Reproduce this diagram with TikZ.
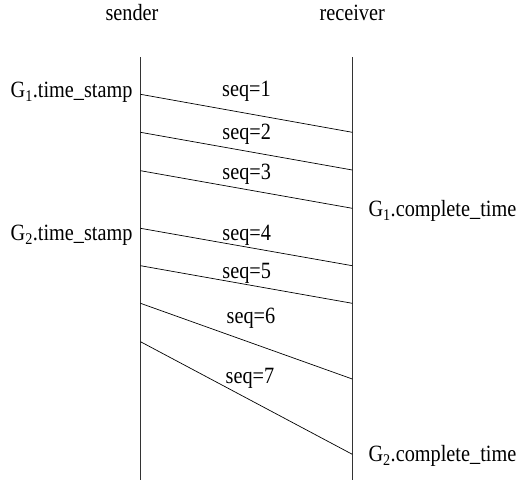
\documentclass[tikz,border=0pt]{standalone}
\usepackage{fontspec}
\setmainfont[FakeStretch=0.87]{Liberation Serif}
\usetikzlibrary{positioning}

\begin{document}
\begin{tikzpicture}[
  x=1pt, y=-1pt,
  every node/.style={font=\fontsize{23.3}{27}\selectfont, inner sep=0pt},
  lifeline/.style={draw=black!80, line width=0.8pt},
  msgline/.style={draw=black, line width=0.7pt},
  seqlabel/.style={anchor=base},
  leftlabel/.style={anchor=base east},
  rightlabel/.style={anchor=base west},
]
\useasboundingbox (0,0) rectangle (519,482);

% lifelines
\coordinate (stop) at (140.5,57);
\coordinate (sbot) at (140.5,480);
\coordinate (rtop) at (352.3,57);
\coordinate (rbot) at (352.3,480);
\draw[lifeline] (stop) -- (sbot);
\draw[lifeline] (rtop) -- (rbot);
\node[anchor=base] (sender) at (132,20) {sender};
\node[anchor=base] (receiver) at (352.2,20) {receiver};

% send / receive points
\coordinate (s1) at (140.5,94.3);  \coordinate (r1) at (352.3,132.3);
\coordinate (s2) at (140.5,132.3); \coordinate (r2) at (352.3,170);
\coordinate (s3) at (140.5,170.7); \coordinate (r3) at (352.3,208.3);
\coordinate (s4) at (140.5,228.3); \coordinate (r4) at (352.3,265.7);
\coordinate (s5) at (140.5,265.7); \coordinate (r5) at (352.3,303.3);
\coordinate (s6) at (140.5,303.3); \coordinate (r6) at (352.3,379);
\coordinate (s7) at (140.5,341.7); \coordinate (r7) at (352.3,454.3);

\draw[msgline] (s1) -- (r1);
\draw[msgline] (s2) -- (r2);
\draw[msgline] (s3) -- (r3);
\draw[msgline] (s4) -- (r4);
\draw[msgline] (s5) -- (r5);
\draw[msgline] (s6) -- (r6);
\draw[msgline] (s7) -- (r7);

% packet labels
\node[seqlabel] (q1) at (246.5,96) {seq=1};
\node[seqlabel] (q2) at (246.7,139.5) {seq=2};
\node[seqlabel] (q3) at (246.7,179.3) {seq=3};
\node[seqlabel] (q4) at (246.7,240.7) {seq=4};
\node[seqlabel] (q5) at (246.7,278.3) {seq=5};
\node[seqlabel] (q6) at (251,323.3) {seq=6};
\node[seqlabel] (q7) at (250,383.3) {seq=7};

% group times
\node[leftlabel] (g1s) at (132.7,97.5) {G\textsubscript{1}.time\_stamp};
\node[leftlabel] (g2s) at (132.7,240.5) {G\textsubscript{2}.time\_stamp};
\node[rightlabel] (g1c) at (368.3,216.5) {G\textsubscript{1}.complete\_time};
\node[rightlabel] (g2c) at (368.3,461.5) {G\textsubscript{2}.complete\_time};
\end{tikzpicture}
\end{document}
